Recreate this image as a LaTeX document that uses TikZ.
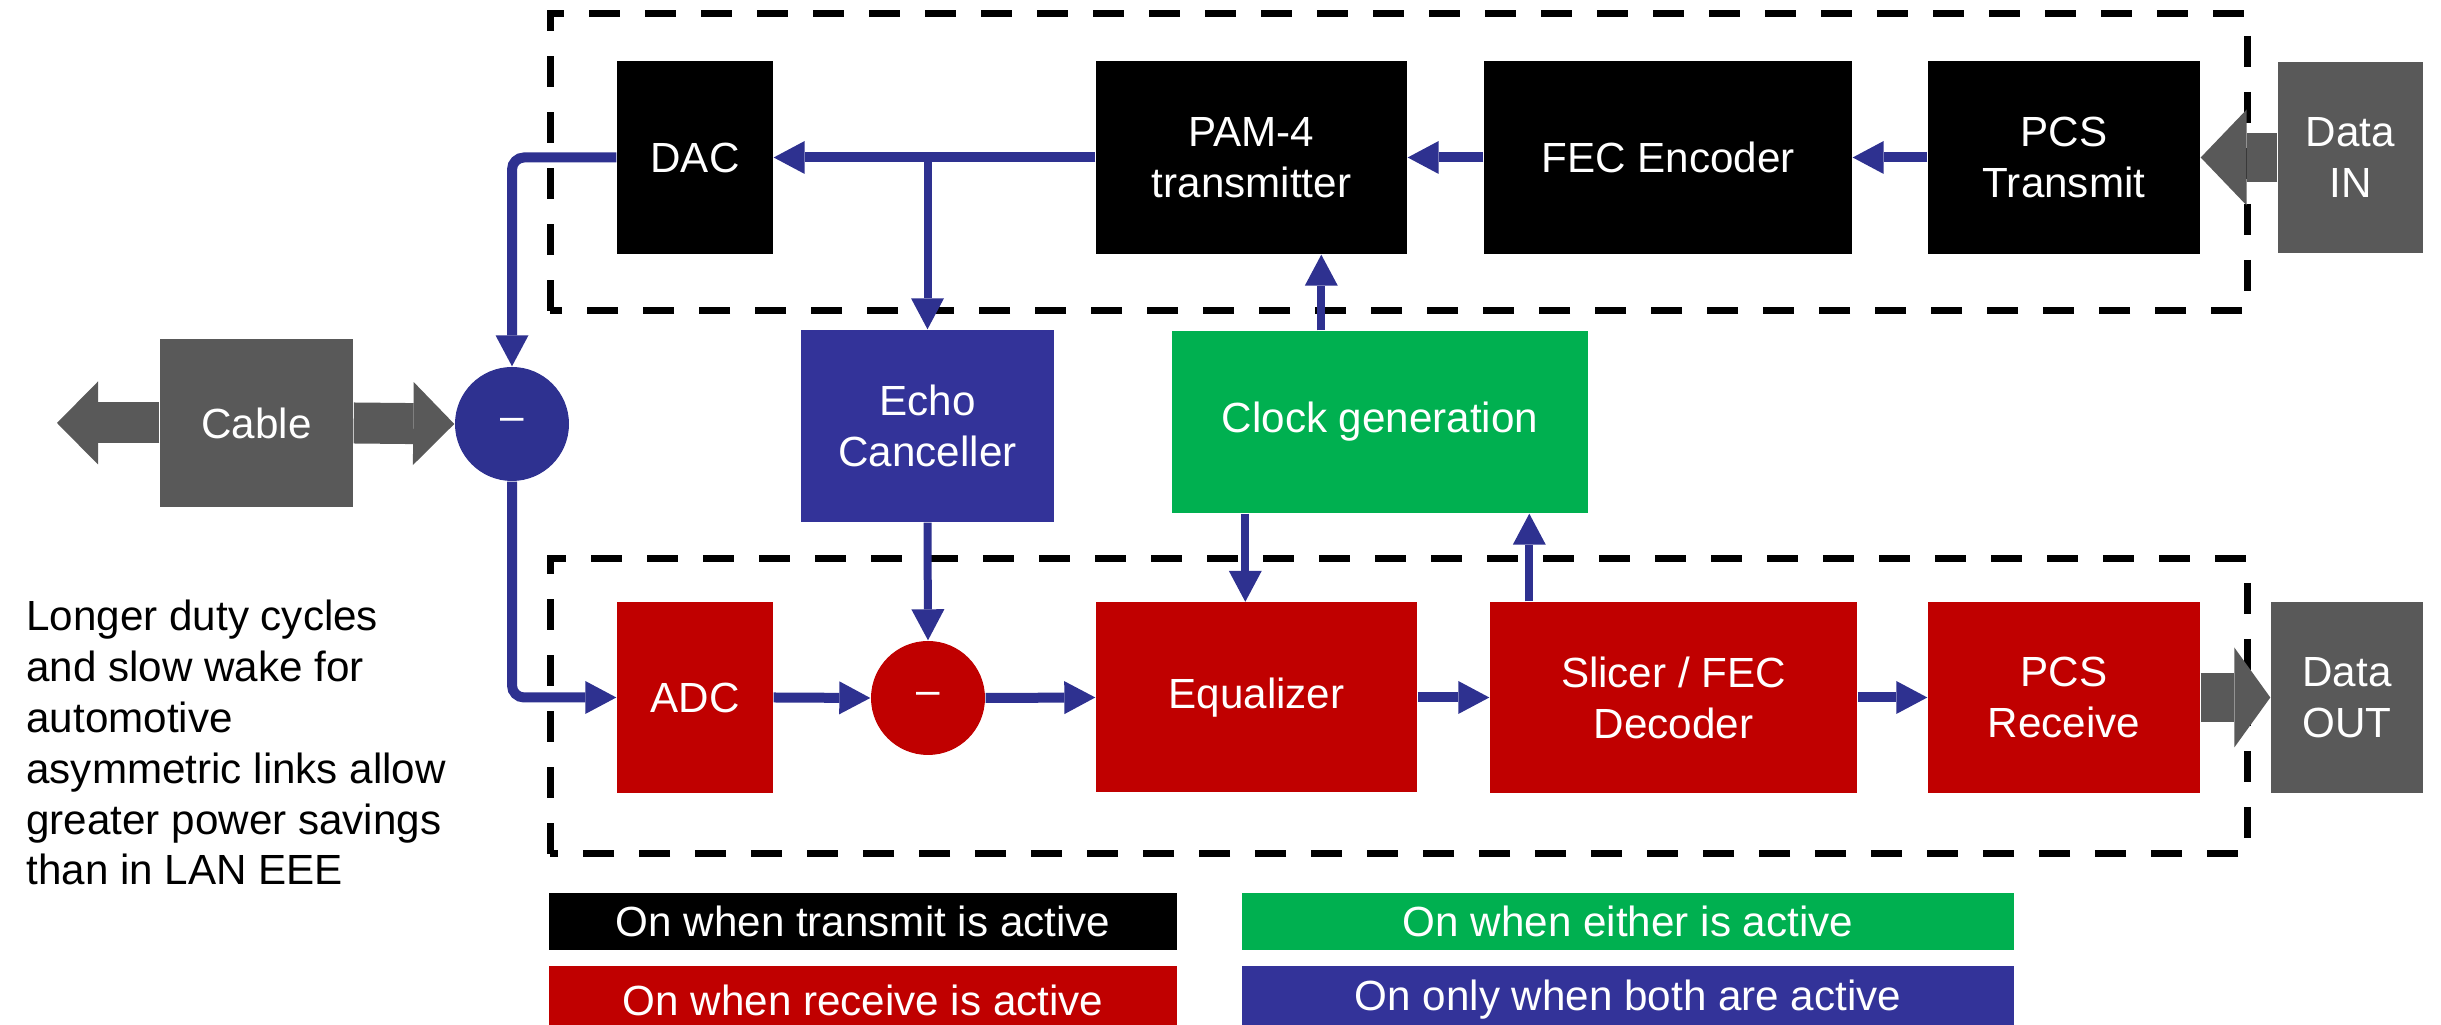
\documentclass[tikz,border=0pt]{standalone}
\usepackage{fontspec}
\setmainfont{Liberation Sans}
\usetikzlibrary{arrows.meta}

\definecolor{rxred}{HTML}{C00000}
\definecolor{eithergreen}{HTML}{00B050}
\definecolor{bothblue}{HTML}{333399}
\definecolor{linkblue}{HTML}{2E3190}
\definecolor{iogray}{HTML}{595959}

\begin{document}
\begin{tikzpicture}[
  font=\fontsize{12}{14.5}\selectfont,
  blk/.style={rectangle, fill=#1, text=white, align=center, inner sep=0pt},
  sub/.style={circle, fill=#1, text=white, minimum size=1.14cm, inner sep=0pt},
  bus/.style={draw=linkblue, line width=0.1cm, -{Triangle[length=0.31cm,width=0.33cm,line width=0pt]}},
  tap/.style={draw=linkblue, line width=0.08cm, -{Triangle[length=0.31cm,width=0.33cm,line width=0pt]}},
  fat/.style={draw=iogray, line width=0.49cm, -{Triangle[length=0.46cm,width=0.96cm,line width=0pt]}},
  zone/.style={draw, line width=0.07cm, dash pattern=on 0.31cm off 0.25cm}
]
\useasboundingbox (0,0) rectangle (24.41,10.25);

\draw[zone] (5.50,7.14) rectangle (22.47,10.11);
\draw[zone] (5.50,1.71) rectangle (22.47,4.66);

% transmit path
\node[blk=black, minimum width=1.56cm, minimum height=1.93cm] (dac) at (6.95,8.675) {DAC};
\node[blk=black, minimum width=3.11cm, minimum height=1.93cm] (pam) at (12.515,8.675) {PAM-4\\transmitter};
\node[blk=black, minimum width=3.68cm, minimum height=1.93cm] (fecenc) at (16.68,8.675) {FEC Encoder};
\node[blk=black, minimum width=2.72cm, minimum height=1.93cm] (pcstx) at (20.64,8.675) {PCS\\Transmit};
\node[blk=iogray, minimum width=1.45cm, minimum height=1.91cm] (datain) at (23.505,8.675) {Data\\IN};

% middle row
\node[blk=iogray, minimum width=1.93cm, minimum height=1.68cm] (cable) at (2.565,6.02) {Cable};
\node[sub=linkblue] (bluesub) at (5.12,6.01) {--};
\node[blk=bothblue, minimum width=2.53cm, minimum height=1.92cm] (echo) at (9.275,5.99) {Echo\\Canceller};
\node[blk=eithergreen, minimum width=4.16cm, minimum height=1.82cm] (clock) at (13.80,6.03) {Clock generation};
\coordinate (cableend) at (0.57,6.02);

% receive path
\node[blk=rxred, minimum width=1.56cm, minimum height=1.91cm] (adc) at (6.95,3.275) {ADC};
\node[sub=rxred] (redsub) at (9.28,3.27) {--};
\node[blk=rxred, minimum width=3.21cm, minimum height=1.90cm] (eq) at (12.565,3.275) {Equalizer};
\node[blk=rxred, minimum width=3.67cm, minimum height=1.91cm] (slicer) at (16.735,3.275) {Slicer / FEC\\Decoder};
\node[blk=rxred, minimum width=2.72cm, minimum height=1.91cm] (pcsrx) at (20.64,3.275) {PCS\\Receive};
\node[blk=iogray, minimum width=1.52cm, minimum height=1.91cm] (dataout) at (23.47,3.275) {Data\\OUT};

\node[anchor=base west, align=left] (note) at (0.14,1.40) {Longer duty cycles\\and slow wake for\\automotive\\asymmetric links allow\\greater power savings\\than in LAN EEE};

% legend
\node[blk=black, minimum width=6.28cm, minimum height=0.57cm] (keytx) at (8.63,1.035) {On when transmit is active};
\node[blk=rxred, minimum width=6.28cm, minimum height=0.68cm] (keyrx) at (8.63,0.25) {On when receive is active};
\node[blk=eithergreen, minimum width=7.72cm, minimum height=0.57cm] (keyeither) at (16.28,1.035) {On when either is active};
\node[blk=bothblue, minimum width=7.72cm, minimum height=0.68cm] (keyboth) at (16.28,0.25) {On only when both are active};

\draw[fat] (datain.west) -- (pcstx.east);
\draw[fat, -{Triangle[length=0.36cm,width=1.0cm,line width=0pt]}] (pcsrx.east) -- (dataout.west);
\draw[fat, -{Triangle[length=0.41cm,width=0.83cm,line width=0pt]}, line width=0.41cm] (cable.east) -- (bluesub.west);
\draw[fat, -{Triangle[length=0.41cm,width=0.83cm,line width=0pt]}, line width=0.41cm] (cable.west) -- (cableend);

\draw[bus] (pcstx.west) -- (fecenc.east);
\draw[bus] (fecenc.west) -- (pam.east);
\draw[bus] (pam.west) -- (dac.east);
\draw[tap] (echo.north |- dac.east) -- (echo.north);
\draw[bus, rounded corners=0.12cm] (dac.west) -| (bluesub.north);
\draw[bus, rounded corners=0.12cm] (bluesub.south) |- (adc.west);
\draw[tap] (echo.south) -- (redsub.north);
\draw[bus] (adc.east) -- (redsub.west);
\draw[bus] (redsub.east) -- (eq.west);
\draw[bus] (eq.east) -- (slicer.west);
\draw[bus] (slicer.east) -- (pcsrx.west);
\draw[tap] ([xshift=1.50cm]clock.north west) -- ([xshift=1.50cm]clock.north west |- pam.south);
\draw[tap] ([xshift=0.74cm]clock.south west) -- ([xshift=0.74cm]clock.south west |- eq.north);
\draw[tap] ([xshift=3.58cm]clock.south west |- slicer.north) -- ([xshift=3.58cm]clock.south west);
\end{tikzpicture}
\end{document}
